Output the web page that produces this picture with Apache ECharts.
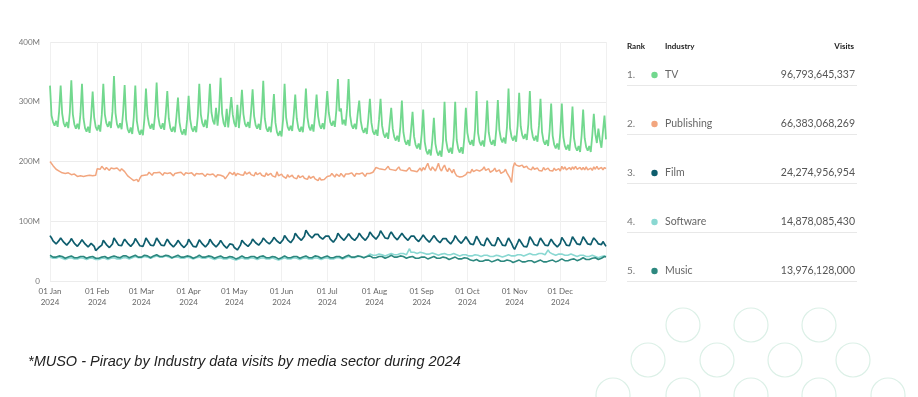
<!DOCTYPE html>
<html>
<head>
<meta charset="utf-8">
<script src="https://cdn.jsdelivr.net/npm/echarts@6/dist/echarts.min.js"></script>
<style>
  html, body { margin: 0; padding: 0; background: #fff; }
  #container { width: 918px; height: 397px; }
</style>
</head>
<body>
<div id="container"></div>
<script>
// daily visits in millions, 2024-01-01 .. 2024-12-31 (one line per week)
var tvVisits = [
  327,277,266,260,268,258,284, 327,280,264,258,266,256,282, 336,279,262,255,263,254,280,
  330,272,256,250,258,248,276, 317,274,258,252,261,250,278, 330,279,264,258,267,256,283,
  343,281,262,256,264,254,282, 328,270,254,248,257,246,274, 327,268,252,245,253,244,272,
  322,277,262,255,263,253,279, 332,276,261,255,264,253,280, 318,272,256,250,258,249,275,
  307,266,251,245,254,244,270, 310,271,256,250,259,249,276, 330,279,264,258,270,256,284,
  330,282,268,262,290,260,286, 340,280,264,258,288,257,282, 308,278,264,258,295,256,282,
  320,279,263,258,266,256,283, 321,276,261,255,263,253,280, 335,272,256,250,258,249,276,
  313,265,249,243,251,242,270, 330,274,258,252,260,251,278, 312,272,256,250,258,249,276,
  322,274,258,252,262,250,278, 312,276,261,255,264,254,280, 318,282,266,260,268,258,286,
  338,284,289,262,270,260,288, 338,277,261,255,263,254,280, 302,268,254,248,256,246,272,
  305,265,250,245,253,243,270, 305,260,246,240,248,238,264, 290,255,241,235,243,233,258,
  302,249,234,228,236,226,252, 283,242,228,222,230,220,246, 287,233,218,212,220,210,236,
  273,230,216,210,218,208,236, 300,236,221,215,223,213,240, 300,236,221,215,224,213,240,
  290,248,234,228,236,226,254, 318,248,233,227,235,225,252, 302,249,234,228,236,226,254,
  303,253,238,232,240,230,258, 322,256,241,235,243,233,260, 315,259,244,238,246,236,262,
  318,256,241,235,243,233,260, 305,249,234,228,236,226,252, 297,243,228,222,230,220,248,
  297,241,226,220,228,218,245, 292,239,224,218,226,216,244, 287,239,224,218,226,216,244,
  280,246,231,255,236,223,250, 277,237
];
var publishingVisits = [
  200,197,193,190,187,186,184, 183,181,184,180,178,181,179, 178,176,179,177,175,178,176,
  177,175,178,176,174,177,175, 176,174,177,188,190,187,192, 189,186,190,188,185,189,187,
  188,185,189,186,184,188,186, 183,180,176,178,172,170,168, 167,170,166,172,176,179,177,
  180,178,182,179,177,181,179, 181,178,182,180,177,181,179, 180,177,181,179,176,180,178,
  181,178,182,180,177,181,179, 180,177,181,179,176,180,178, 179,176,180,178,175,179,177,
  178,175,179,177,174,178,176, 177,174,175,171,170,178,182, 184,178,182,176,180,183,178,
  181,177,183,179,176,182,178, 180,176,182,178,175,181,177, 179,175,181,177,174,180,176,
  178,174,183,176,173,179,175, 176,172,178,174,171,177,173, 175,171,177,173,170,176,172,
  174,170,176,172,169,175,171, 172,168,173,169,166,170,168, 175,178,176,180,177,174,179,
  178,175,180,177,174,179,176, 179,176,181,178,175,180,177, 179,176,181,178,175,180,177,
  180,177,182,179,190,193,188, 191,187,190,186,189,192,187, 190,186,189,185,188,191,186,
  189,185,188,184,187,190,185, 188,184,187,183,186,189,184, 190,186,192,197,189,185,191,
  188,184,190,197,188,184,190, 194,187,183,189,185,181,187, 180,176,178,174,172,175,173,
  178,182,185,181,187,183,180, 186,189,184,181,187,191,185, 184,188,182,179,185,189,183,
  182,186,180,177,183,187,181, 179,172,165,190,198,194,196, 192,189,194,190,187,192,188,
  190,186,191,187,184,189,185, 188,184,190,186,183,189,185, 188,184,189,185,183,188,184,
  192,187,191,186,184,190,186, 191,187,192,187,184,190,186, 190,186,191,186,183,189,185,
  191,187,192,187,184,190,186, 190,188
];
var filmVisits = [
  76,72,67,64,62,63,68, 72,69,65,62,60,61,66, 71,68,63,60,58,59,65,
  69,66,62,59,57,58,63, 64,58,51,53,56,55,60, 68,65,61,58,56,57,62,
  72,69,64,60,58,59,65, 70,67,63,60,58,59,64, 71,68,63,59,57,58,64,
  72,69,64,60,58,59,65, 72,69,64,60,58,59,65, 70,67,62,59,57,58,63,
  68,65,61,58,56,57,62, 70,67,62,58,56,57,63, 69,66,62,59,57,58,63,
  70,67,62,59,57,58,63, 68,65,60,57,55,56,62, 64,61,56,53,52,54,60,
  68,66,62,60,58,59,64, 70,68,64,62,60,61,66, 72,70,66,64,62,63,68,
  73,71,67,65,63,64,69, 76,73,69,66,64,65,71, 80,77,73,70,68,69,75,
  85,82,77,74,72,73,78, 80,78,74,72,70,71,75, 78,75,70,67,65,66,72,
  80,77,73,70,68,69,75, 79,77,72,70,68,69,74, 80,77,73,70,68,69,75,
  82,79,75,72,70,71,77, 84,81,76,72,70,71,78, 82,79,74,71,69,70,76,
  80,77,73,70,68,69,75, 78,75,71,68,66,67,73, 77,74,70,67,65,66,72,
  76,73,69,66,64,65,71, 74,71,67,64,62,63,69, 76,73,68,65,63,64,70,
  74,71,66,62,60,61,68, 75,72,66,61,58,59,67, 72,69,64,60,58,59,65,
  73,70,65,60,58,59,66, 72,69,63,57,53,55,64, 70,67,62,58,56,57,64,
  74,71,66,61,58,59,66, 72,69,64,60,58,59,65, 70,67,62,59,57,58,63,
  73,70,65,60,58,59,66, 74,71,66,62,60,61,67, 74,71,66,62,60,61,67,
  72,70,66,62,60,61,66, 64,58
];
var softwareVisits = [
  40,39,38,37,38,39,40, 39,38,37,36,37,38,39, 39,38,37,36,37,38,39,
  39,38,37,36,37,38,39, 38,37,36,35,36,37,38, 39,38,37,36,37,38,39,
  39,38,37,36,37,38,39, 40,39,38,37,38,39,40, 41,40,39,38,39,40,41,
  41,40,39,38,39,40,41, 42,41,40,39,40,41,42, 41,40,39,38,39,40,41,
  40,39,38,37,38,39,40, 40,39,38,37,38,39,40, 40,39,38,37,38,39,40,
  39,38,37,36,37,38,39, 39,38,37,36,37,38,39, 38,37,36,35,36,37,38,
  39,38,37,36,37,38,39, 39,38,37,36,37,38,39, 39,38,37,36,37,38,39,
  38,37,36,35,36,37,38, 39,38,37,36,37,38,39, 39,38,37,36,37,38,39,
  39,38,37,36,37,38,39, 39,38,37,36,37,38,39, 39,38,37,36,37,38,39,
  40,39,38,37,38,39,40, 41,40,39,38,39,40,41, 42,41,40,39,40,41,42,
  45,44,43,42,43,44,45, 45,44,43,42,43,44,45, 46,45,44,43,44,45,46,
  47,46,45,44,45,54,48, 49,48,47,46,47,48,49, 47,46,45,44,45,46,47,
  46,45,44,43,44,45,46, 46,45,44,43,44,45,46, 45,44,43,42,43,44,45,
  44,43,42,41,42,43,44, 44,43,42,41,42,43,44, 43,42,41,40,41,42,43,
  43,42,41,40,41,42,43, 44,43,42,41,42,43,44, 45,44,43,42,43,44,45,
  46,45,44,43,44,45,46, 47,46,45,44,45,52,48, 46,45,44,43,44,45,46,
  45,44,43,42,43,44,45, 44,43,42,41,42,43,44, 43,42,41,40,41,42,43,
  42,41,40,39,40,41,42, 42,41
];
var musicVisits = [
  43,42,40,39,40,41,42, 42,41,39,38,40,40,41, 42,40,39,38,39,41,41,
  42,41,39,38,39,40,42, 41,40,38,37,38,39,40, 42,41,39,38,39,40,41,
  42,41,40,38,39,41,42, 43,42,40,39,40,41,42, 43,41,40,39,40,41,43,
  44,42,40,39,40,42,43, 44,43,41,40,41,42,43, 43,42,40,39,40,41,42,
  43,41,40,39,40,41,42, 42,41,39,38,39,40,41, 43,42,40,39,40,41,42,
  42,41,39,38,39,40,41, 42,40,39,38,39,40,41, 41,40,38,37,38,39,40,
  42,41,39,38,39,40,41, 42,41,39,38,39,41,41, 42,40,39,38,39,40,41,
  41,40,38,37,38,39,40, 42,41,39,38,39,40,41, 42,41,39,38,39,40,41,
  42,40,39,38,39,40,42, 42,41,39,38,39,40,41, 42,41,39,38,39,40,41,
  42,41,40,38,39,41,42, 43,42,40,39,40,41,42, 43,41,40,39,40,41,42,
  42,41,39,38,39,40,41, 42,41,39,38,39,40,42, 43,42,40,39,40,41,42,
  42,41,39,38,39,40,41, 41,40,38,37,38,39,40, 41,40,38,37,38,39,40,
  41,39,38,37,38,39,40, 40,39,37,36,37,38,39, 40,39,37,36,37,38,39,
  39,38,36,35,34,34,35, 36,35,33,32,33,34,35, 36,35,33,32,33,34,35,
  36,34,33,32,33,34,35, 35,34,32,31,32,33,34, 35,34,32,31,32,33,34,
  35,34,32,31,32,33,34, 35,33,32,31,32,33,34, 36,35,33,32,33,34,35,
  37,36,34,33,34,35,36, 38,37,35,34,35,36,37, 39,38,36,35,36,37,38,
  40,39,37,36,37,38,39, 41,40
];

var industries = ['TV', 'Publishing', 'Film', 'Software', 'Music'];
var totals = ['96,793,645,337', '66,383,068,269', '24,274,956,954', '14,878,085,430', '13,976,128,000'];
var colors = ['#72d88e', '#f2a67f', '#0e5d6d', '#8ad8d2', '#2d887f'];
var monthNames = ['Jan', 'Feb', 'Mar', 'Apr', 'May', 'Jun', 'Jul', 'Aug', 'Sep', 'Oct', 'Nov', 'Dec'];

// one category per day of 2024
var days = [];
var d = new Date(Date.UTC(2024, 0, 1));
while (d.getUTCFullYear() === 2024) {
    var mm = d.getUTCMonth() + 1, dd = d.getUTCDate();
    days.push('2024-' + (mm < 10 ? '0' + mm : mm) + '-' + (dd < 10 ? '0' + dd : dd));
    d.setUTCDate(dd + 1);
}

function isMonthStart(index, value) {
    return days[index].slice(8) === '01';
}

var dom = document.getElementById('container');
var myChart = echarts.init(dom);
var FONT = 'Lato, "Open Sans", sans-serif';

// legend table on the right
var table = [];
table.push({ type: 'text', x: 627, y: 46, style: { text: 'Rank', fill: '#222', font: 'bold 8px ' + FONT, verticalAlign: 'middle' } });
table.push({ type: 'text', x: 665, y: 46, style: { text: 'Industry', fill: '#222', font: 'bold 8px ' + FONT, verticalAlign: 'middle' } });
table.push({ type: 'text', x: 854, y: 46, style: { text: 'Visits', fill: '#222', font: 'bold 8px ' + FONT, align: 'right', verticalAlign: 'middle' } });
industries.forEach(function(name, i) {
    var y = 75 + i * 49;
    table.push({ type: 'text', x: 627, y: y, style: { text: (i + 1) + '.', fill: '#777', font: '10px ' + FONT, verticalAlign: 'middle' } });
    table.push({ type: 'circle', shape: { cx: 654.5, cy: y, r: 3.2 }, style: { fill: colors[i] } });
    table.push({ type: 'text', x: 665, y: y, style: { text: name, fill: '#666', font: '10.5px ' + FONT, verticalAlign: 'middle' } });
    table.push({ type: 'text', x: 855, y: y, style: { text: totals[i], fill: '#555', font: '10.5px ' + FONT, align: 'right', verticalAlign: 'middle' } });
    table.push({ type: 'line', shape: { x1: 627, y1: y + 10.5, x2: 857, y2: y + 10.5 }, style: { stroke: '#e8e8e8', lineWidth: 1 } });
});

// decorative rings, bottom right
var rings = [[683, 325], [751, 325], [819, 325],
             [648, 360], [717, 360], [785, 360], [853, 360],
             [613, 395], [683, 395], [751, 395], [819, 395], [888, 395]];
rings.forEach(function(c) {
    table.push({ type: 'circle', silent: true, z: -1, shape: { cx: c[0], cy: c[1], r: 17 },
                 style: { fill: 'none', stroke: '#dcf0e7', lineWidth: 1.2 } });
});

table.push({ type: 'text', x: 28, y: 362,
             style: { text: '*MUSO - Piracy by Industry data visits by media sector during 2024',
                      fill: '#222', font: 'italic 14.5px "Liberation Sans", Arial, sans-serif', verticalAlign: 'middle' } });

function makeSeries(name, data, color, width) {
    return {
        name: name,
        type: 'line',
        data: data,
        showSymbol: false,
        smooth: false,
        lineStyle: { color: color, width: width },
        itemStyle: { color: color }
    };
}

myChart.setOption({
    animation: false,
    grid: { left: 50, right: 312, top: 42, bottom: 116 },
    xAxis: {
        type: 'category',
        data: days,
        boundaryGap: false,
        axisLine: { show: false },
        axisTick: { show: false },
        axisLabel: {
            interval: isMonthStart,
            color: '#666',
            fontSize: 8,
            lineHeight: 11,
            margin: 5,
            fontFamily: FONT,
            formatter: function(value) {
                var m = parseInt(value.slice(5, 7), 10);
                return value.slice(8) + ' ' + monthNames[m - 1] + '\n' + value.slice(0, 4);
            }
        },
        splitLine: {
            show: true,
            interval: function(index, value) { return isMonthStart(index) || index === days.length - 1; },
            lineStyle: { color: '#f0f0f0' }
        }
    },
    yAxis: {
        type: 'value',
        min: 0,
        max: 400,
        interval: 100,
        axisLine: { show: false },
        axisTick: { show: false },
        axisLabel: {
            color: '#777',
            fontSize: 8,
            margin: 10,
            fontFamily: FONT,
            formatter: function(v) { return v === 0 ? '0' : v + 'M'; }
        },
        splitLine: { lineStyle: { color: '#ececec' } }
    },
    series: [
        makeSeries('TV', tvVisits, colors[0], 1.8),
        makeSeries('Publishing', publishingVisits, colors[1], 1.5),
        makeSeries('Film', filmVisits, colors[2], 1.7),
        makeSeries('Software', softwareVisits, colors[3], 1.6),
        makeSeries('Music', musicVisits, colors[4], 1.6)
    ],
    graphic: table
});
</script>
</body>
</html>
